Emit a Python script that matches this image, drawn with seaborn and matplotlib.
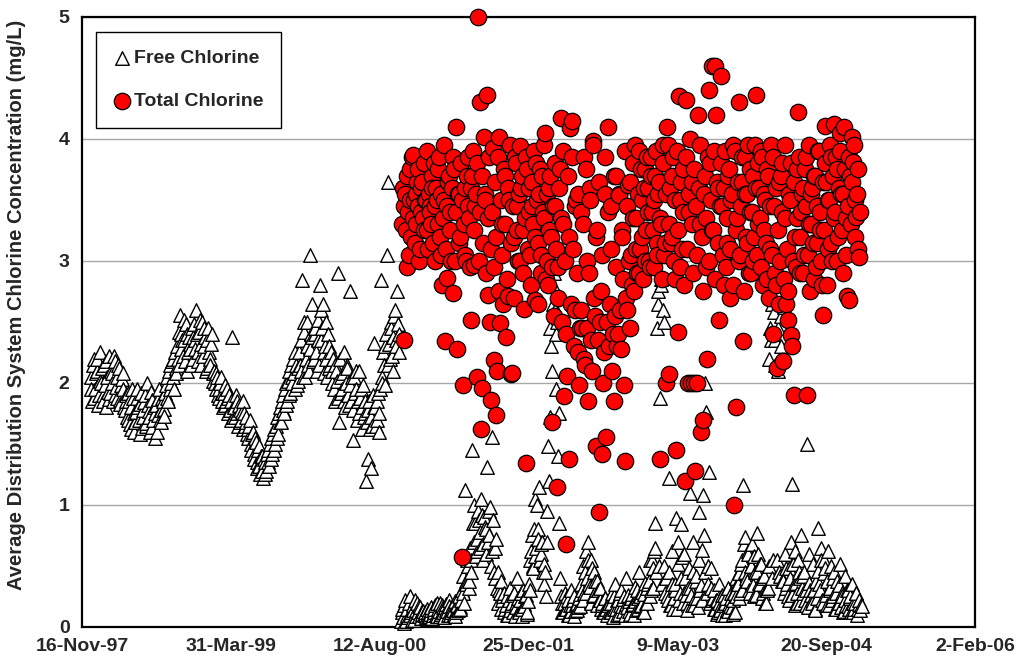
import matplotlib
matplotlib.use("Agg")
import matplotlib.pyplot as plt
import matplotlib.ticker as mticker
import pandas as pd
import seaborn as sns
from datetime import datetime, timedelta

# ---------------- data ----------------
# Free chlorine, first period: two interleaved sample sets, every 5 days from their start dates
free_early_start = "1997-12-15"
free_early_a = [2.05, 1.85, 2.20, 1.95, 2.10, 1.82, 2.25, 2.00, 1.90, 2.15, 1.80, 2.05, 2.22, 1.92, 2.08, 1.85, 2.18, 1.97, 1.88, 2.12, 1.83, 2.03, 1.95,
                1.78, 1.90, 1.70, 1.85, 1.62, 1.95, 1.75, 1.68, 1.88, 1.80, 1.58, 1.92, 1.72, 1.84, 1.65, 2.00, 1.77, 1.60, 1.86, 1.70, 1.55, 1.82, 1.74, 1.95, 1.68, 1.88, 1.79,
                1.92, 2.05, 1.85, 2.15, 2.00, 2.20, 1.95, 2.12,
                2.30, 2.15, 2.56, 2.40, 2.22, 2.35, 2.48, 2.10, 2.38, 2.28, 2.45, 2.20]
free_early_b = [2.35, 2.60, 2.25, 2.42, 2.15, 2.50, 2.30, 2.38, 2.12, 2.45, 2.20, 2.32, 2.08,
                2.10, 1.95, 2.05, 1.88, 2.00, 1.92, 1.80, 1.98, 1.85, 1.75, 1.90, 1.70, 2.38, 1.82, 1.72, 1.85, 1.65, 1.78, 1.70, 1.62, 1.75, 1.68, 1.58,
                1.55, 1.70, 1.45, 1.60, 1.38, 1.52, 1.30, 1.48, 1.25, 1.40, 1.22, 1.35, 1.28, 1.45, 1.32, 1.55, 1.42, 1.62, 1.50, 1.72, 1.58, 1.80,
                1.68, 1.90, 1.75, 2.00, 1.85, 2.10, 1.92, 2.05, 2.20, 1.95, 2.15, 2.02]
free_early_c = [2.25, 2.10, 2.84, 2.50, 2.05, 2.30, 2.15, 3.05, 2.40, 2.65,
                2.20, 2.45, 2.10, 2.35, 2.80, 2.60, 2.65, 2.25, 2.50, 2.05, 2.30, 2.15,
                2.00, 2.20, 1.85, 2.10, 2.90, 1.68, 2.05, 1.95, 2.25, 1.80, 2.15, 1.90, 2.75, 1.85, 1.53, 2.05, 1.95, 1.70, 2.10, 1.88, 1.62, 1.98,
                1.75, 1.20, 1.38, 1.85, 1.30, 1.65, 2.33, 1.80, 1.70, 1.92, 1.60,
                2.84, 2.00, 2.15, 2.30, 3.05, 3.65, 2.20, 2.45, 2.10, 2.55, 2.35, 2.75, 2.25]
free_early2_start = "1997-12-17"
free_early2_a = [1.95, 2.15, 1.88, 2.08, 2.20, 1.90, 2.02, 2.12, 1.85, 1.98, 2.18, 1.93, 1.87, 2.10, 2.00, 2.22, 1.90, 2.05, 2.15, 1.86, 1.98, 2.08, 1.80,
                 1.85, 1.72, 1.92, 1.66, 1.80, 1.88, 1.60, 1.76, 1.95, 1.70, 1.83, 1.63, 1.78, 1.90, 1.67, 1.82, 1.72, 1.93, 1.64, 1.80, 1.75, 1.60, 1.87, 1.70, 1.78, 1.85, 1.73,
                 1.98, 1.88, 2.10, 1.95, 2.18, 2.05, 2.25, 2.08,
                 2.20, 2.42, 2.28, 2.35, 2.52, 2.18, 2.40, 2.25, 2.32, 2.15, 2.38, 2.48]
free_early2_b = [2.28, 2.40, 2.18, 2.52, 2.32, 2.22, 2.45, 2.10, 2.35, 2.25, 2.15, 2.40, 2.02,
                 2.00, 2.08, 1.90, 1.95, 2.05, 1.85, 1.92, 1.82, 1.95, 1.88, 1.78, 1.85, 1.72, 1.80, 1.90, 1.75, 1.82, 1.68, 1.76, 1.85, 1.65, 1.72, 1.62,
                 1.65, 1.50, 1.58, 1.42, 1.55, 1.35, 1.45, 1.32, 1.40, 1.28, 1.38, 1.25, 1.42, 1.35, 1.50, 1.38, 1.58, 1.45, 1.65, 1.55, 1.75, 1.68,
                 1.85, 1.78, 1.95, 1.82, 2.02, 1.90, 2.15, 2.00, 2.08, 2.25, 1.98, 2.12]
free_early2_c = [2.15, 2.35, 2.05, 2.42, 2.20, 2.50, 2.10, 2.28, 2.38, 2.18,
                 2.40, 2.25, 2.52, 2.15, 2.35, 2.45, 2.08, 2.30, 2.20, 2.40, 2.12, 2.25,
                 2.10, 1.95, 2.15, 2.02, 1.88, 2.20, 1.92, 2.08, 1.85, 2.00, 2.12, 1.82, 1.98, 2.05, 1.78, 1.92, 2.10, 1.85, 1.75, 1.95, 1.80, 1.72,
                 1.85, 1.68, 1.78, 1.62, 1.72, 1.90, 1.80, 1.65, 1.85, 1.75, 1.95,
                 2.05, 2.25, 1.98, 2.40, 2.15, 2.32, 2.50, 2.22, 2.38, 2.60, 2.30, 2.48, 2.40]

# Free chlorine, second period
free_late_start = "2000-10-22"
free_late_a = [0.05, 0.15, 0.03, 0.22, 0.10, 0.08, 0.25, 0.12, 0.18, 0.06, 0.14, 0.20, 0.09, 0.16, 0.11, 0.13,
               0.10, 0.08, 0.12, 0.09, 0.14, 0.07,
               0.12, 0.18, 0.09, 0.15, 0.20, 0.11, 0.16, 0.08, 0.19, 0.13, 0.22, 0.10, 0.17, 0.14, 0.21, 0.12, 0.18, 0.25, 0.15,
               0.30, 0.42, 1.12, 0.35, 0.50, 0.38, 0.55,
               1.45, 0.70, 0.85, 0.62, 0.95, 0.78, 1.05, 0.68, 0.90, 0.80, 1.31, 0.75, 0.98, 1.56, 0.88, 0.65, 0.72,
               0.45, 0.30, 0.38, 0.22, 0.28]
free_late_b = [0.15, 0.25, 0.10, 0.32, 0.18, 0.12, 0.28, 0.20, 0.40, 0.14, 0.22, 0.09, 0.30, 0.17, 0.26, 0.12, 0.35,
               0.55, 0.75, 0.48, 1.05, 0.65, 0.80, 1.15, 0.60, 0.70, 0.52, 0.45,
               0.95, 1.48, 1.72, 2.30, 2.65, 2.90, 1.95, 2.50, 1.75, 0.40,
               0.20, 0.12, 0.28, 0.15, 0.22, 0.10, 0.30, 0.18, 0.25, 0.13, 0.20, 0.16, 0.27,
               0.35, 0.50, 0.28, 0.62, 0.40, 0.70, 0.33, 0.55, 0.25, 0.45, 0.30, 0.38, 0.22, 0.32,
               0.18, 0.12, 0.24, 0.15, 0.20]
free_late_c = [0.20, 0.12, 0.28, 0.15, 0.35, 0.10, 0.22, 0.18, 0.30, 0.13, 0.25, 0.40, 0.16, 0.21, 0.11, 0.27, 0.19, 0.33, 0.14, 0.24, 0.45, 0.17, 0.29, 0.12, 0.36, 0.20,
               0.35, 0.55, 0.30, 0.48, 0.62, 0.85, 2.45, 2.75, 1.88, 2.80, 2.60, 0.50, 0.40,
               0.25, 1.22, 0.18, 0.35, 0.15, 0.30, 0.89, 0.70, 0.22, 0.84, 0.57, 0.28, 0.40, 0.20, 0.32, 1.10, 0.26, 0.45, 0.18, 0.38, 0.24, 0.94, 0.30, 0.63, 1.08, 2.00, 1.76, 0.35, 1.27, 0.48, 0.22]
free_late_d = [0.30, 0.15, 0.22, 0.12, 0.35, 0.18, 0.10, 0.26, 0.20, 0.14, 0.32, 0.17, 0.24, 0.11, 0.28, 0.40,
               0.35, 0.44, 0.28, 0.55, 1.16, 0.74, 0.40, 0.62, 0.30, 0.50, 0.68, 0.25, 0.45, 0.77, 0.60, 0.35, 0.52, 0.28, 0.42, 0.20,
               0.30, 2.20, 2.45, 2.65, 0.55, 2.35, 2.75, 2.10, 0.45, 2.55, 0.38, 2.62, 0.60, 0.32,
               0.25, 0.48, 0.70, 1.17, 0.35, 0.62, 0.20, 0.55, 0.40, 0.75, 0.28, 0.45, 0.18, 1.50, 0.60, 0.30, 0.22, 0.52, 0.15, 0.38]
free_late_e = [0.81, 0.35, 0.65, 0.22, 0.55, 0.48, 0.18, 0.62, 0.30, 0.50, 0.25, 0.45, 0.15, 0.38, 0.20, 0.52, 0.28, 0.12, 0.42, 0.18,
               0.30, 0.15, 0.25, 0.35, 0.12, 0.20, 0.28, 0.15, 0.22, 0.18]
free_late2_start = "2000-10-24"
free_late2_a = [0.12, 0.08, 0.18, 0.05, 0.15, 0.20, 0.10, 0.06, 0.14, 0.22, 0.09, 0.12, 0.17, 0.07, 0.13, 0.10,
                0.12, 0.15, 0.09, 0.11, 0.16, 0.10,
                0.15, 0.10, 0.20, 0.13, 0.09, 0.18, 0.12, 0.16, 0.14, 0.10, 0.17, 0.12, 0.15, 0.11, 0.09, 0.19, 0.14, 0.16, 0.22,
                0.28, 0.20, 0.38, 0.55, 0.32, 0.65, 0.45,
                0.85, 1.00, 0.58, 0.72, 0.88, 0.65, 0.92, 0.55, 0.82, 0.60, 0.70, 0.95, 0.50, 0.62, 0.45, 0.40, 0.32,
                0.20, 0.28, 0.15, 0.25, 0.12]
free_late2_b = [0.18, 0.10, 0.22, 0.14, 0.20, 0.26, 0.09, 0.16, 0.24, 0.12, 0.28, 0.15, 0.19, 0.25, 0.11, 0.21, 0.30,
                0.62, 0.50, 0.80, 0.58, 1.00, 0.72, 0.55, 0.68, 0.45, 0.35, 0.25,
                0.70, 1.20, 2.45, 2.10, 2.80, 2.60, 2.40, 1.40, 0.85, 0.25,
                0.12, 0.20, 0.15, 0.25, 0.10, 0.18, 0.13, 0.22, 0.09, 0.19, 0.14, 0.24, 0.17,
                0.30, 0.22, 0.45, 0.28, 0.55, 0.35, 0.20, 0.48, 0.26, 0.38, 0.18, 0.30, 0.22, 0.15,
                0.20, 0.12, 0.24, 0.10, 0.18]
free_late2_c = [0.12, 0.20, 0.08, 0.25, 0.15, 0.22, 0.11, 0.28, 0.17, 0.23, 0.10, 0.19, 0.26, 0.13, 0.24, 0.18, 0.10, 0.21, 0.30, 0.15, 0.25, 0.18, 0.12, 0.27, 0.20, 0.32,
                0.38, 0.25, 0.55, 0.32, 0.65, 0.45, 2.65, 0.50, 2.85, 0.35, 2.50, 0.28, 0.40,
                0.22, 0.45, 0.18, 0.62, 0.24, 0.35, 0.15, 0.52, 0.28, 0.40, 0.20, 0.60, 0.26, 0.14, 0.48, 0.32, 0.18, 0.70, 0.24, 0.42, 0.16, 0.55, 0.34, 0.22, 0.75, 0.45, 0.28, 0.50, 0.20, 0.32, 0.24]
free_late2_d = [0.15, 0.22, 0.11, 0.20, 0.14, 0.26, 0.18, 0.10, 0.24, 0.13, 0.19, 0.28, 0.16, 0.22, 0.12, 0.25,
                0.35, 0.24, 0.52, 0.30, 0.68, 0.45, 0.38, 0.60, 0.28, 0.50, 0.34, 0.58, 0.26, 0.45, 0.36, 0.52, 0.24, 0.40, 0.20, 0.30,
                0.32, 0.50, 2.35, 0.40, 2.58, 2.15, 0.55, 2.45, 0.42, 2.30, 0.38, 0.28, 0.48, 0.35,
                0.22, 0.40, 0.26, 0.52, 0.18, 0.36, 0.28, 0.45, 0.20, 0.32, 0.42, 0.22, 0.30, 0.16, 0.36, 0.26, 0.20, 0.30, 0.14, 0.24]
free_late2_e = [0.46, 0.30, 0.55, 0.20, 0.44, 0.26, 0.38, 0.18, 0.32, 0.22, 0.40, 0.15, 0.28, 0.20, 0.34, 0.16, 0.25, 0.13, 0.22, 0.30,
                0.17, 0.24, 0.12, 0.20, 0.15, 0.28, 0.10, 0.19, 0.14, 0.17]

# Total chlorine: two interleaved sample sets
total_start = "2000-10-26"
total_a = [3.30, 2.35, 3.55, 2.95, 3.40, 3.75, 3.20, 3.87, 3.50, 3.30, 3.65, 3.45, 3.10, 3.60, 3.35, 3.80, 3.50, 3.25, 3.55, 3.40,
           3.70, 3.15, 3.45, 3.60, 3.30, 3.85, 3.05, 2.80, 3.50, 2.34, 2.86, 3.65, 3.40, 3.00, 2.74, 3.75, 4.10, 2.28, 3.55, 3.20,
           0.57, 1.98, 3.60, 3.00, 3.85, 3.35, 2.52, 3.70, 2.97, 3.45, 2.05, 5.00, 4.30, 1.62, 1.96, 4.02, 3.50, 4.36, 2.72, 2.50]
total_b = [1.86, 3.93, 2.19, 1.74, 2.10, 4.02, 2.49, 3.30, 2.65, 3.70, 2.38, 2.71, 3.50, 2.07, 2.08, 3.20, 3.85, 3.45, 3.00, 3.94,
           3.60, 3.25, 2.61, 1.34, 3.75, 3.40, 3.05, 3.65, 3.30, 2.68, 3.80, 3.15, 3.55, 2.90, 3.70, 3.35, 4.05, 3.00, 2.80, 3.60,
           3.20, 1.68, 2.55, 3.45, 1.15, 2.95, 3.75, 4.17, 3.30, 1.89, 0.68, 2.06, 1.38, 4.09, 4.15, 3.10, 2.60, 3.50, 2.25, 1.98]
total_c = [3.40, 2.45, 3.85, 2.15, 3.00, 1.85, 3.60, 2.35, 3.98, 2.70, 1.48, 3.25, 0.94, 2.50, 1.42, 2.00, 3.55, 1.56, 4.10, 2.30,
           3.45, 2.10, 1.85, 2.55, 3.70, 2.40, 3.54, 2.28, 3.20, 1.98, 1.36, 2.60, 3.62, 2.45, 3.05, 3.80, 2.75, 3.35, 2.90, 3.90,
           3.10, 3.50, 2.85, 3.75, 3.25, 3.60, 3.00, 3.85, 3.40, 2.95, 3.70, 3.15, 3.55, 1.38, 3.30, 3.95, 3.05, 2.00, 4.10, 2.07]
total_d = [3.60, 3.20, 3.85, 2.85, 1.45, 2.42, 4.35, 3.50, 3.10, 3.75, 1.20, 4.32, 2.00, 3.40, 2.00, 3.65, 2.00, 1.28, 2.00, 4.20,
           3.30, 1.60, 1.70, 3.55, 2.95, 2.20, 4.40, 3.80, 4.60, 3.25, 4.60, 4.20, 3.60, 2.52, 4.52, 3.45, 2.80, 3.90, 3.15, 3.70,
           2.70, 3.50, 3.95, 1.00, 1.80, 3.35, 4.30, 3.05, 3.65, 2.34, 3.85, 3.20, 3.55, 2.90, 3.75, 3.40, 3.00, 3.95, 4.36, 3.30]
total_e = [3.60, 2.95, 3.85, 3.25, 3.50, 2.85, 3.70, 3.10, 3.95, 2.40, 3.45, 2.80, 2.12, 3.65, 3.00, 3.80, 2.18, 3.35, 2.65, 2.52,
           3.55, 2.39, 2.30, 1.90, 3.20, 3.75, 4.22, 2.90, 3.40, 3.60, 3.05, 3.85, 1.90, 3.30, 2.75, 3.55, 3.15, 3.70, 2.95, 3.45,
           3.90, 3.25, 2.80, 2.56, 4.11, 3.65, 3.10, 3.50, 3.85, 3.00, 4.12, 3.40, 3.75, 3.20, 4.05, 3.55, 2.90, 4.10, 3.35, 2.71,
           2.68, 3.70, 4.02, 3.81, 3.50, 3.36, 3.10, 3.03]
total2_start = "2000-10-28"
total2_a = [3.60, 3.45, 3.25, 3.70, 3.05, 3.50, 3.85, 3.35, 3.15, 3.55, 3.75, 3.00, 3.40, 3.65, 3.25, 3.50, 3.90, 3.10, 3.45, 3.30,
            3.60, 3.80, 3.00, 3.50, 3.75, 3.20, 3.55, 3.35, 3.95, 3.10, 3.45, 3.70, 3.25, 3.60, 3.85, 3.00, 3.40, 3.55, 3.15, 3.80,
            3.50, 3.30, 3.05, 3.70, 3.45, 2.95, 3.60, 3.90, 3.25, 3.55, 3.80, 3.00, 3.40, 3.70, 3.15, 3.55, 2.90, 3.35, 3.85, 3.10]
total2_b = [3.40, 2.95, 3.65, 3.20, 3.85, 2.75, 3.50, 3.05, 3.75, 3.30, 2.85, 3.60, 3.95, 3.15, 3.45, 2.70, 3.80, 3.25, 3.55, 3.00,
            3.70, 2.90, 3.35, 3.85, 3.10, 3.60, 2.80, 3.45, 3.90, 3.20, 3.50, 2.65, 3.75, 3.05, 3.40, 3.95, 2.85, 3.55, 3.25, 3.70,
            2.95, 3.45, 3.80, 3.10, 2.70, 3.60, 3.35, 2.50, 3.90, 3.00, 2.40, 3.70, 3.20, 2.65, 3.85, 2.30, 3.45, 2.90, 3.55, 2.45]
total2_c = [2.60, 3.30, 2.20, 3.75, 2.45, 2.90, 3.50, 2.10, 3.95, 2.55, 3.20, 2.35, 3.65, 2.75, 3.05, 2.25, 3.85, 2.50, 3.40, 2.65,
            3.10, 2.40, 3.70, 2.95, 2.30, 3.55, 2.60, 3.25, 2.85, 3.90, 2.70, 3.45, 3.00, 3.65, 2.80, 3.35, 3.95, 3.10, 3.55, 2.90,
            3.75, 3.20, 3.60, 3.00, 3.85, 3.40, 2.95, 3.70, 3.25, 3.50, 3.90, 3.05, 3.65, 3.35, 2.85, 3.80, 3.15, 3.55, 3.95, 3.30]
total2_d = [3.15, 3.70, 3.00, 3.50, 3.90, 3.25, 2.95, 3.65, 3.40, 2.80, 3.85, 3.10, 3.55, 4.00, 3.30, 2.90, 3.75, 3.45, 3.05, 3.60,
            3.95, 3.20, 2.75, 3.70, 3.35, 3.85, 3.00, 3.50, 3.25, 3.90, 2.85, 3.65, 3.15, 3.45, 3.80, 3.05, 3.60, 2.95, 3.35, 3.75,
            3.10, 3.55, 2.80, 3.90, 3.25, 3.65, 3.00, 3.45, 3.85, 2.75, 3.55, 3.15, 3.95, 3.40, 2.90, 3.70, 3.20, 3.60, 3.05, 3.80]
total2_e = [3.35, 3.90, 2.80, 3.55, 3.15, 3.75, 2.70, 3.45, 3.05, 3.85, 2.90, 3.60, 3.25, 2.65, 3.70, 3.40, 2.85, 3.95, 3.10, 2.75,
            3.50, 3.80, 3.00, 3.65, 2.95, 3.35, 3.85, 3.20, 3.55, 2.90, 3.75, 3.45, 3.05, 3.95, 3.30, 3.60, 2.85, 3.70, 3.15, 3.90,
            3.40, 3.00, 3.65, 3.25, 3.80, 2.80, 3.50, 3.95, 3.15, 3.70, 3.35, 3.85, 3.00, 3.60, 3.90, 3.25, 3.55, 3.75, 3.05, 3.45,
            3.85, 3.30, 3.65, 3.95, 3.20, 3.55, 3.75, 3.40]

x_tick_start = "1997-11-16"
x_tick_step_days = 500
x_tick_count = 7
y_ticks = [0, 1, 2, 3, 4, 5]


# ---------------- build frames ----------------
def series(start, values):
    return pd.DataFrame({"date": pd.date_range(start, periods=len(values), freq="5D"), "value": values})


df_free = pd.concat([
    series(free_early_start, free_early_a + free_early_b + free_early_c),
    series(free_early2_start, free_early2_a + free_early2_b + free_early2_c),
    series(free_late_start, free_late_a + free_late_b + free_late_c + free_late_d + free_late_e),
    series(free_late2_start, free_late2_a + free_late2_b + free_late2_c + free_late2_d + free_late2_e),
]).sort_values("date")
df_total = pd.concat([
    series(total_start, total_a + total_b + total_c + total_d + total_e),
    series(total2_start, total2_a + total2_b + total2_c + total2_d + total2_e),
]).sort_values("date")

# ---------------- style ----------------
sns.set_style("white")
plt.rcParams["font.family"] = ["Liberation Sans", "DejaVu Sans"]
plt.rcParams["font.weight"] = "bold"

fig, ax = plt.subplots(figsize=(10.18, 6.66), dpi=100)
fig.subplots_adjust(left=0.0806, right=0.958, bottom=0.0586, top=0.9745)

sns.scatterplot(data=df_free, x="date", y="value", marker="^", s=95, color="white",
                edgecolor="black", linewidth=1.0, ax=ax, label="Free Chlorine",
                zorder=3, clip_on=False)
sns.scatterplot(data=df_total, x="date", y="value", marker="o", s=140, color="#FF0000",
                edgecolor="black", linewidth=0.9, ax=ax, label="Total Chlorine",
                zorder=4, clip_on=False)

t0 = datetime.strptime(x_tick_start, "%Y-%m-%d")
xt = [t0 + timedelta(days=x_tick_step_days * k) for k in range(x_tick_count)]
ax.set_xlim(xt[0], xt[-1])
ax.set_xticks(xt)
ax.set_xticklabels([f"{d.day}-{d.strftime('%b-%y')}" for d in xt], fontsize=14, fontweight="bold")

ax.set_ylim(0, 5)
ax.set_yticks(y_ticks)
ax.set_yticklabels([str(v) for v in y_ticks], fontsize=14, fontweight="bold")
ax.yaxis.set_minor_locator(mticker.MultipleLocator(0.5))

ax.tick_params(axis="both", which="major", direction="out", length=5, width=1, color="black", pad=4)
ax.tick_params(axis="y", which="minor", direction="in", length=5, width=1, color="black")
ax.tick_params(axis="x", which="major", length=4)

ax.yaxis.grid(True, color="#a8a8a8", linewidth=1.0)
ax.xaxis.grid(False)
ax.set_axisbelow(True)

for sp in ax.spines.values():
    sp.set_color("black")
    sp.set_linewidth(1.6)
    sp.set_visible(True)

ax.set_xlabel("")
ax.set_ylabel("Average Distribution System Chlorine Concentration (mg/L)", fontsize=14.5, fontweight="bold")
ax.yaxis.set_label_coords(-0.063, 0.528)

leg = ax.legend(loc="upper left", bbox_to_anchor=(0.0157, 0.975), frameon=True, fancybox=False,
                shadow=False, borderpad=0.9, labelspacing=1.3, handlelength=0.9, handletextpad=0.15,
                borderaxespad=0.0, prop={"size": 14, "weight": "bold"})
leg.get_frame().set_edgecolor("black")
leg.get_frame().set_linewidth(1.0)
leg.get_frame().set_facecolor("white")
leg.get_frame().set_alpha(1.0)

fig.savefig("out.png", dpi=100)
